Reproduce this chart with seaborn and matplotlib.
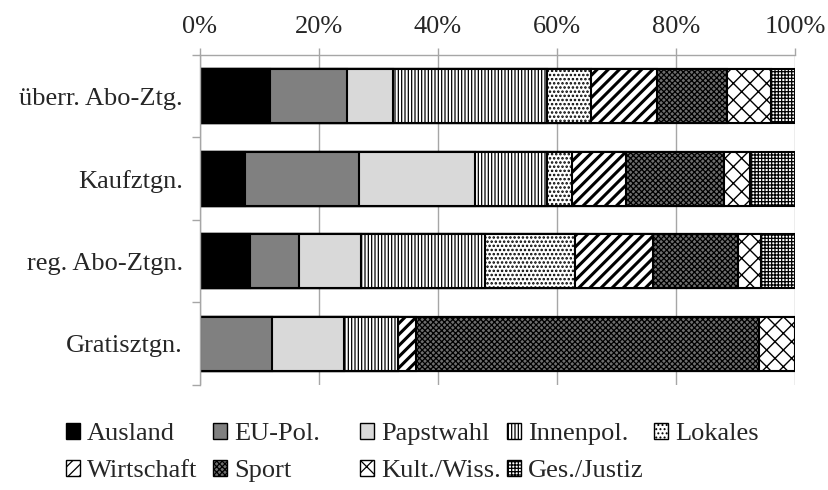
import numpy as np
import matplotlib
matplotlib.use("Agg")
import matplotlib.pyplot as plt
import matplotlib.patches as mpatches
import seaborn as sns

# Data (percent of articles per topic)
categories = ["überr. Abo-Ztg.", "Kaufztgn.", "reg. Abo-Ztgn.", "Gratisztgn."]
topics = ["Ausland", "EU-Pol.", "Papstwahl", "Innenpol.", "Lokales",
          "Wirtschaft", "Sport", "Kult./Wiss.", "Ges./Justiz"]

ausland = [11.9, 7.6, 8.5, 0.0]
eu_pol = [12.9, 19.1, 8.2, 12.1]
papstwahl = [7.7, 19.5, 10.4, 12.2]
innenpol = [25.8, 12.1, 20.9, 9.0]
lokales = [7.4, 4.3, 15.0, 0.0]
wirtschaft = [11.1, 9.0, 13.2, 3.0]
sport = [11.8, 16.5, 14.2, 57.6]
kult_wiss = [7.3, 4.4, 3.9, 6.1]
ges_justiz = [4.1, 7.5, 5.7, 0.0]

x_ticks = [0, 20, 40, 60, 80, 100]
x_labels = ["0%", "20%", "40%", "60%", "80%", "100%"]

# fill colour, hatch, hatch line width
styles = [
    ("#000000", "", 1.0),
    ("#808080", "", 1.0),
    ("#d9d9d9", "", 1.0),
    ("#ffffff", "|||||", 0.9),
    ("#ffffff", "....", 1.2),
    ("#ffffff", "///", 2.2),
    ("#6e6e6e", "xxxxxx", 0.9),
    ("#ffffff", "xx", 1.0),
    ("#ffffff", "+++++", 0.9),
]

sns.set_style("white")
plt.rcParams["font.family"] = ["Liberation Serif", "DejaVu Serif"]
plt.rcParams["font.size"] = 19

grid_col = "#a6a6a6"

fig = plt.figure(figsize=(8.29, 4.9), dpi=100)
ax = fig.add_axes([0.2407, 0.2143, 0.7183, 0.6735])

values = np.array([ausland, eu_pol, papstwahl, innenpol, lokales,
                   wirtschaft, sport, kult_wiss, ges_justiz])
cum = np.cumsum(values, axis=0)

# stacked bars: draw cumulative totals from the right-most segment backwards
for i in reversed(range(len(topics))):
    face, hatch, hlw = styles[i]
    plt.rcParams["hatch.linewidth"] = hlw
    sns.barplot(x=cum[i], y=categories, order=categories, orient="h",
                color=face, saturation=1, hatch=hatch, edgecolor="black",
                linewidth=1.5, width=0.655, errorbar=None, ax=ax)
    for p in ax.containers[-1]:
        if hasattr(p, "set_hatch_linewidth"):
            p.set_hatch_linewidth(hlw)

ax.set_xlim(0, 100)
ax.set_ylim(3.5, -0.5)
ax.set_xlabel("")
ax.set_ylabel("")

ax.xaxis.tick_top()
ax.set_xticks(x_ticks)
ax.set_xticklabels(x_labels)
ax.xaxis.grid(True, color=grid_col, linewidth=1)
ax.set_axisbelow(True)
ax.tick_params(axis="x", which="major", top=True, bottom=False, direction="out",
               length=5, width=1, color=grid_col, pad=7)

ax.set_yticks([-0.5, 0.5, 1.5, 2.5, 3.5], minor=True)
ax.tick_params(axis="y", which="major", length=0, pad=12)
ax.tick_params(axis="y", which="minor", left=True, direction="out",
               length=5.8, width=1, color=grid_col)

for side in ["right", "bottom"]:
    ax.spines[side].set_visible(False)
for side in ["left", "top"]:
    ax.spines[side].set_color(grid_col)
    ax.spines[side].set_linewidth(1)

# legend: equal-width columns, filled row by row like the original
handles = []
for i, name in enumerate(topics):
    face, hatch, hlw = styles[i]
    plt.rcParams["hatch.linewidth"] = hlw
    h = mpatches.Patch(facecolor=face, edgecolor="black", hatch=hatch,
                       linewidth=1, label=name)
    if hasattr(h, "set_hatch_linewidth"):
        h.set_hatch_linewidth(hlw)
    handles.append(h)

ncol = 5
col_x0, col_w = 66 / 829, 147 / 829
for c in range(ncol):
    col_handles = handles[c::ncol]
    fig.legend(handles=col_handles, loc="upper left",
               bbox_to_anchor=(col_x0 + c * col_w, 0.136),
               frameon=False, borderpad=0, borderaxespad=0,
               handlelength=0.53, handleheight=0.53, handletextpad=0.27,
               labelspacing=0.55, fontsize=19)

plt.rcParams["hatch.linewidth"] = 1.0
fig.savefig("out.png", dpi=100)
